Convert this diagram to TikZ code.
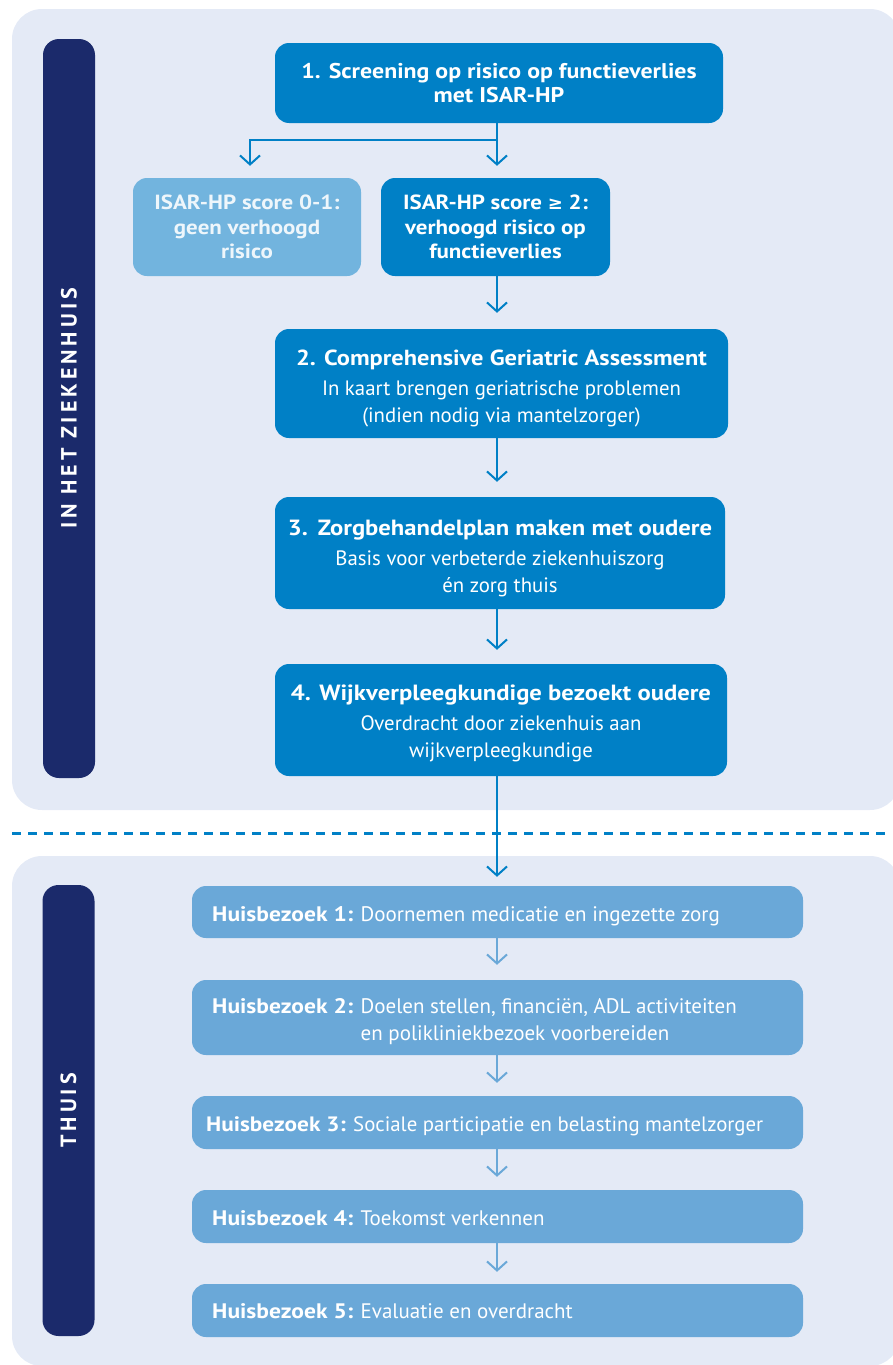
\documentclass[tikz,border=0pt]{standalone}
\usepackage{fontspec}
\setmainfont{PT Sans}[BoldFeatures={FakeStretch=1.12}]
\newfontfamily\sidefont[LetterSpace=18]{PT Sans}
\newfontfamily\symbfont{DejaVu Sans}
\usetikzlibrary{arrows.meta}
\definecolor{panel}{HTML}{E4EAF6}
\definecolor{navy}{HTML}{1B2A6B}
\definecolor{dblue}{HTML}{0080C6}
\definecolor{lblue}{HTML}{72B4DE}
\definecolor{mblue}{HTML}{6AA8D8}
\begin{document}
\begin{tikzpicture}[x=1pt,y=-1pt,
  panelbg/.style={fill=panel, rounded corners=30pt},
  sidebar/.style={fill=navy, rounded corners=16pt, rotate=90, text=white, inner sep=0pt,
    minimum height=52pt, font=\sidefont\bfseries\fontsize{22}{24}\selectfont},
  topbox/.style={fill=dblue, rounded corners=14pt, text=white, align=center, inner sep=0pt},
  titletext/.style={anchor=base, text=white, inner sep=0pt, font=\bfseries\fontsize{22}{27}\selectfont},
  bodytext/.style={anchor=base, text=white, inner sep=0pt, font=\fontsize{20.8}{27}\selectfont},
  lightbox/.style={fill=lblue, rounded corners=14pt, text=white!88!lblue, align=center, inner sep=0pt},
  homebox/.style={fill=mblue, rounded corners=14pt, inner sep=0pt, minimum width=611pt},
  hometext/.style={anchor=base west, inner sep=0pt, text=white, font=\fontsize{21}{27}\selectfont},
  arr/.style={draw=dblue, line width=2pt, -{Straight Barb[length=9pt,width=20pt,line width=2pt]}},
  harr/.style={draw=mblue, line width=2pt, -{Straight Barb[length=9pt,width=20pt,line width=2pt]}}
]
\useasboundingbox (0,0) rectangle (892,1365);
% panels
\fill[panelbg] (12,9) rectangle (900,810);
\fill[panelbg] (12,856) rectangle (900,1366);
% dashed separator
\coordinate (dl) at (12,833);
\coordinate (dr) at (892,833);
\draw[dblue, line width=3pt, dash pattern=on 9pt off 7pt] (dl) -- (dr);
% sidebars
\node[sidebar, minimum width=739pt] (s1) at (69,408.5) {IN HET ZIEKENHUIS};
\node[sidebar, minimum width=451pt] (s2) at (68.5,1110.5) {THUIS};
% hospital boxes
\node[topbox, minimum width=448pt, minimum height=80pt, font=\bfseries\fontsize{21.3}{24}\selectfont] (b1) at (499,83)
  {1. Screening op risico op functieverlies\\met ISAR-HP};
\node[lightbox, minimum width=228pt, minimum height=98pt, font=\bfseries\fontsize{20.5}{24.5}\selectfont] (lb) at (247,227)
  {ISAR-HP score 0-1:\\geen verhoogd\\risico};
\node[topbox, minimum width=229pt, minimum height=98pt, font=\bfseries\fontsize{20.5}{24.5}\selectfont] (rb) at (495.5,227)
  {ISAR-HP score {\symbfont\fontsize{18}{24.5}\selectfont ≥} 2:\\verhoogd risico op\\functieverlies};
\node[topbox, minimum width=453pt, minimum height=109pt] (b2) at (501.5,383.5) {};
\node[titletext, font=\bfseries\fontsize{21.8}{27}\selectfont] (b2h) at (501.5,365.5) {2. Comprehensive Geriatric Assessment};
\node[bodytext] (b2b) at (501.5,395) {\begin{tabular}[t]{@{}c@{}}In kaart brengen geriatrische problemen\\(indien nodig via mantelzorger)\end{tabular}};
\node[topbox, minimum width=450pt, minimum height=112pt] (b3) at (500,553) {};
\node[titletext] (b3h) at (500,535) {3.\hspace{0.45em}Zorgbehandelplan maken met oudere};
\node[bodytext] (b3b) at (500,565) {\begin{tabular}[t]{@{}c@{}}Basis voor verbeterde ziekenhuiszorg\\én zorg thuis\end{tabular}};
\node[topbox, minimum width=452pt, minimum height=112pt] (b4) at (501,720) {};
\node[titletext] (b4h) at (501,700.5) {4. Wijkverpleegkundige bezoekt oudere};
\node[bodytext] (b4b) at (501,730.5) {\begin{tabular}[t]{@{}c@{}}Overdracht door ziekenhuis aan\\wijkverpleegkundige\end{tabular}};
% home boxes
\node[homebox, minimum height=52pt] (h1) at (497.5,912) {};
\node[homebox, minimum height=75pt] (h2) at (497.5,1017.5) {};
\node[homebox, minimum height=53pt] (h3) at (497.5,1122.5) {};
\node[homebox, minimum height=53pt] (h4) at (497.5,1216.5) {};
\node[homebox, minimum height=53pt] (h5) at (497.5,1310.5) {};
\node[hometext] (t1) at (212,921.5) {\textbf{Huisbezoek 1:} Doornemen medicatie en ingezette zorg};
\node[hometext] (t2) at (212,1013) {\begin{tabular}[t]{@{}l@{ }l@{}}\bfseries Huisbezoek 2: & Doelen stellen, financiën, ADL activiteiten\\ & en polikliniekbezoek voorbereiden\end{tabular}};
\node[hometext, font=\fontsize{20.8}{27}\selectfont] (t3) at (206,1131.5) {\textbf{Huisbezoek 3:} Sociale participatie en belasting mantelzorger};
\node[hometext] (t4) at (212,1225) {\textbf{Huisbezoek 4:} Toekomst verkennen};
\node[hometext] (t5) at (212,1318) {\textbf{Huisbezoek 5:} Evaluatie en overdracht};
% connectors
\coordinate (sp) at (497,140);
\coordinate (la) at (250,140);
\draw[arr, shorten >=12pt] (b1.south -| sp) -- (rb.north -| sp);
\draw[arr, shorten >=12pt] (sp) -- (la) -- (la |- lb.north);
\draw[arr, shorten >=16pt] (rb.south -| sp) -- (b2.north -| sp);
\draw[arr, shorten >=15pt] (b2.south -| sp) -- (b3.north -| sp);
\draw[arr, shorten >=14pt] (b3.south -| sp) -- (b4.north -| sp);
\draw[arr, shorten >=9pt] (b4.south -| sp) -- (h1.north -| sp);
\draw[harr, shorten >=15pt] (h1.south -| sp) -- (h2.north -| sp);
\draw[harr, shorten >=13pt] (h2.south -| sp) -- (h3.north -| sp);
\draw[harr, shorten >=13pt] (h3.south -| sp) -- (h4.north -| sp);
\draw[harr, shorten >=12pt] (h4.south -| sp) -- (h5.north -| sp);
\end{tikzpicture}
\end{document}
